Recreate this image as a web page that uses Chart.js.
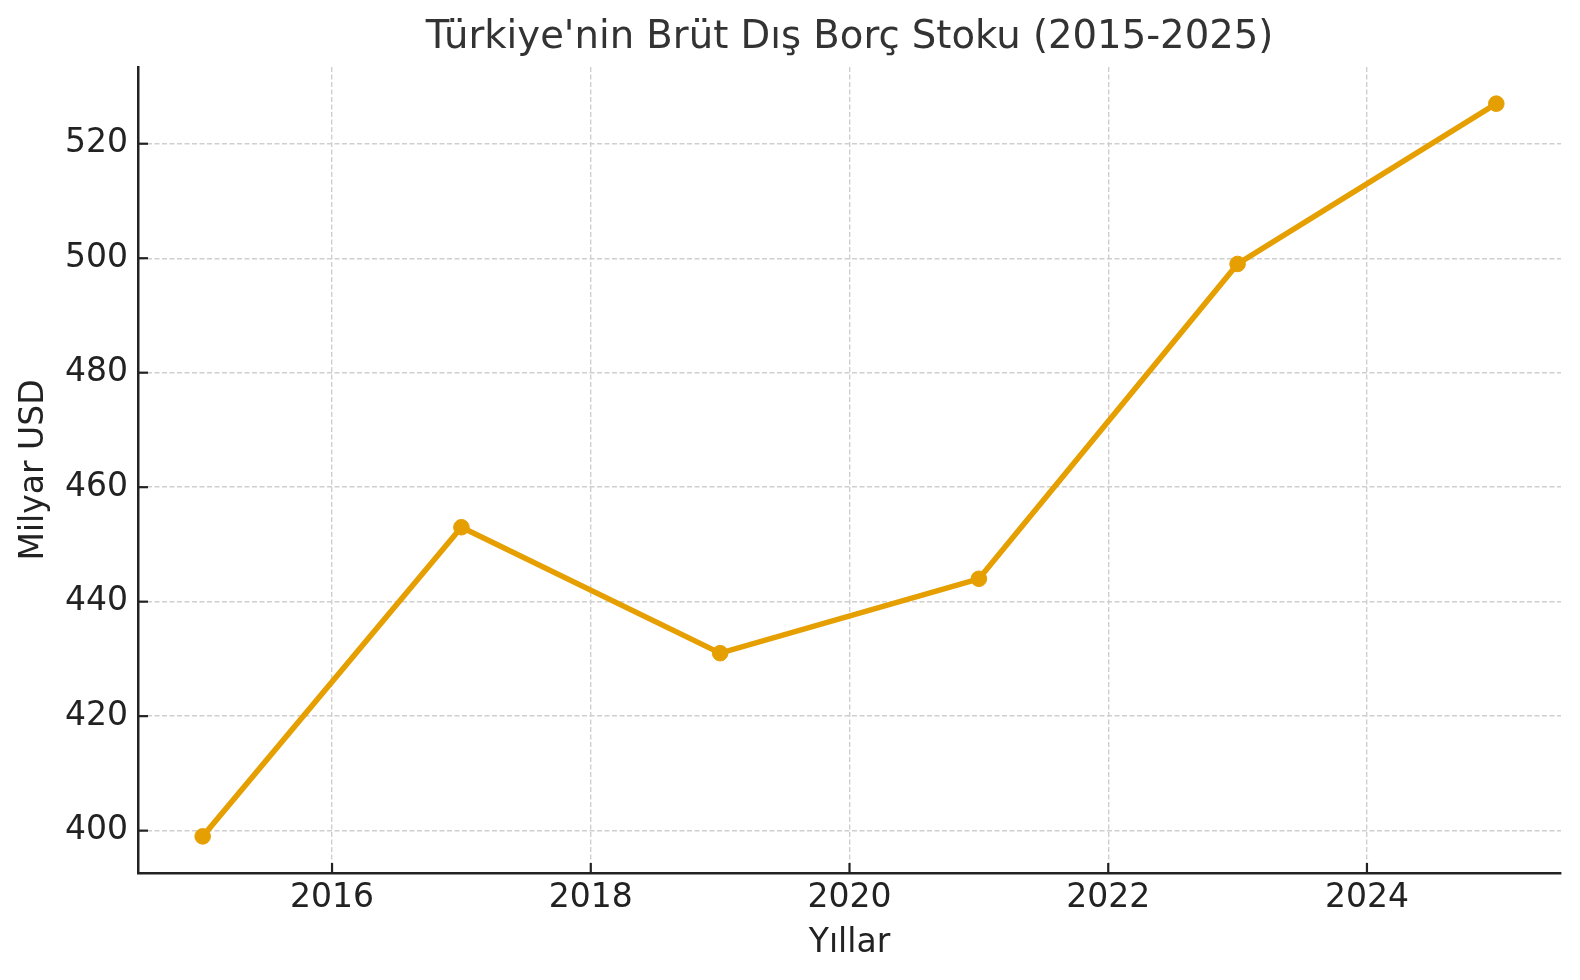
<!DOCTYPE html>
<html>
<head>
<meta charset="utf-8">
<script src="https://cdn.jsdelivr.net/npm/chart.js@4.4.1/dist/chart.umd.min.js"></script>
<style>
  html, body { margin: 0; padding: 0; background: #ffffff; }
  #wrap { width: 1580px; height: 980px; }
</style>
</head>
<body>
<div id="wrap"><canvas id="c" width="1580" height="980"></canvas></div>
<script>
const chartTitle = "Türkiye'nin Brüt Dış Borç Stoku (2015-2025)";
const xTitle = "Yıllar";
const yTitle = "Milyar USD";
const years = [2015, 2017, 2019, 2021, 2023, 2025];
const debtValues = [399, 453, 431, 444, 499, 527];
const xTickValues = [2016, 2018, 2020, 2022, 2024];
const yTickValues = [400, 420, 440, 460, 480, 500, 520];
const xRange = [2014.5, 2025.5];
const yRange = [392.6, 533.4];

const FONT = "'DejaVu Sans', sans-serif";
const lineColor = '#E69F00';

const innerTicks = {
  id: 'innerTicks',
  beforeDatasetsDraw(chart) {
    const ctx = chart.ctx;
    const area = chart.chartArea;
    const xs = chart.scales.x, ys = chart.scales.y;
    ctx.save();
    ctx.strokeStyle = '#222222';
    ctx.lineWidth = 2.2;
    xs.ticks.forEach(t => {
      const px = xs.getPixelForValue(t.value);
      ctx.beginPath();
      ctx.moveTo(px, area.bottom);
      ctx.lineTo(px, area.bottom - 10);
      ctx.stroke();
    });
    ys.ticks.forEach(t => {
      const py = ys.getPixelForValue(t.value);
      ctx.beginPath();
      ctx.moveTo(area.left, py);
      ctx.lineTo(area.left + 10, py);
      ctx.stroke();
    });
    ctx.restore();
  }
};

new Chart(document.getElementById('c'), {
  type: 'line',
  data: {
    datasets: [{
      data: years.map((y, i) => ({ x: y, y: debtValues[i] })),
      borderColor: lineColor,
      backgroundColor: lineColor,
      borderWidth: 5.5,
      pointRadius: 7.8,
      pointBorderWidth: 1,
      pointBackgroundColor: lineColor,
      pointBorderColor: lineColor,
      tension: 0,
      fill: false
    }]
  },
  options: {
    responsive: false,
    devicePixelRatio: 1,
    animation: false,
    layout: { padding: { left: 0, right: 19, top: 0, bottom: 0 } },
    plugins: {
      legend: { display: false },
      tooltip: { enabled: false },
      title: {
        display: true,
        text: chartTitle,
        fullSize: false,
        color: '#333333',
        font: { family: FONT, size: 38.6, weight: 'normal', lineHeight: 1.2 },
        padding: { top: 15.3, bottom: 5.4 }
      }
    },
    scales: {
      x: {
        type: 'linear',
        min: xRange[0],
        max: xRange[1],
        afterBuildTicks: s => { s.ticks = xTickValues.map(v => ({ value: v })); },
        afterFit: s => { s.height = 107; },
        ticks: {
          color: '#222222',
          padding: 6,
          font: { family: FONT, size: 33 },
          callback: v => String(v),
          maxRotation: 0,
          autoSkip: false
        },
        grid: { color: '#cfcfcf', lineWidth: 1.4, drawTicks: false },
        border: { display: true, color: '#222222', width: 2.5, dash: [5, 2.5] },
        title: {
          display: true,
          text: xTitle,
          color: '#222222',
          font: { family: FONT, size: 33 },
          padding: { top: 0, bottom: 17 }
        }
      },
      y: {
        type: 'linear',
        min: yRange[0],
        max: yRange[1],
        afterBuildTicks: s => { s.ticks = yTickValues.map(v => ({ value: v })); },
        afterFit: s => { s.width = 138; },
        ticks: {
          color: '#222222',
          padding: 10,
          font: { family: FONT, size: 33 },
          callback: v => String(v),
          autoSkip: false
        },
        grid: { color: '#cfcfcf', lineWidth: 1.4, drawTicks: false },
        border: { display: true, color: '#222222', width: 2.5, dash: [5, 2.5] },
        title: {
          display: true,
          text: yTitle,
          color: '#222222',
          font: { family: FONT, size: 33 },
          padding: { top: 15, bottom: 0 }
        }
      }
    }
  },
  plugins: [innerTicks]
});
</script>
</body>
</html>
